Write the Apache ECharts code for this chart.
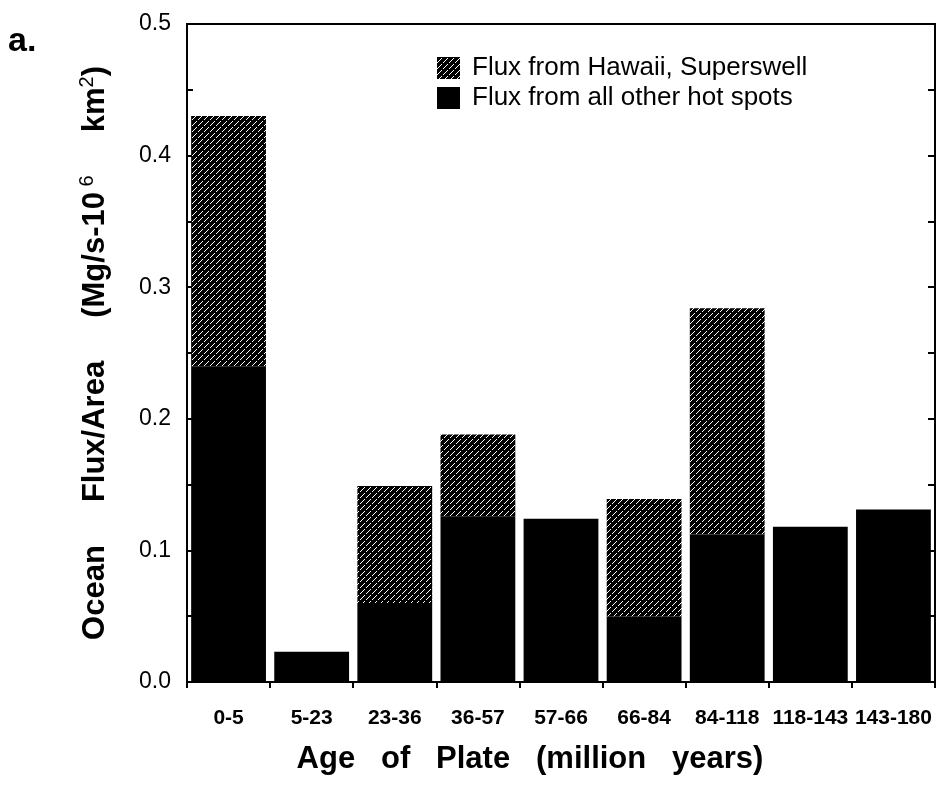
<!DOCTYPE html>
<html>
<head>
<meta charset="utf-8">
<script src="https://cdn.jsdelivr.net/npm/echarts@6/dist/echarts.min.js"></script>
<style>
html,body{margin:0;padding:0;background:#fff;}
#chart{width:940px;height:785px;}
</style>
</head>
<body>
<div id="chart"></div>
<script>
const categories = ['0-5','5-23','23-36','36-57','57-66','66-84','84-118','118-143','143-180'];
const otherFlux = [0.24, 0.023, 0.06, 0.126, 0.124, 0.05, 0.112, 0.118, 0.131];
const hawaiiFlux = [0.19, 0, 0.089, 0.062, 0, 0.089, 0.172, 0, 0];
const yTicks = [0, 0.1, 0.2, 0.3, 0.4, 0.5];
const seriesNames = ['Flux from Hawaii, Superswell', 'Flux from all other hot spots'];

function makeHatch() {
  const n = 6;
  const c = document.createElement('canvas');
  c.width = n; c.height = n;
  const ctx = c.getContext('2d');
  ctx.fillStyle = '#000';
  ctx.fillRect(0, 0, n, n);
  ctx.fillStyle = '#fff';
  [0, 1, 2, 3, 4].forEach(function (x) { ctx.fillRect(x, n - 1 - x, 1, 1); });
  return c;
}
const hatch = { image: makeHatch(), repeat: 'repeat' };

const chart = echarts.init(document.getElementById('chart'), null, { renderer: 'canvas' });
const font = '"Liberation Sans", Arial, Helvetica, sans-serif';

chart.setOption({
  animation: false,
  backgroundColor: '#fff',
  textStyle: { fontFamily: font, color: '#000' },
  grid: { left: 187, right: 5, top: 24, bottom: 103, show: true, borderColor: '#000', borderWidth: 2, backgroundColor: 'transparent' },
  legend: {
    orient: 'vertical',
    left: 432, top: 50,
    itemWidth: 23, itemHeight: 22, itemGap: 4,
    icon: 'rect',
    data: seriesNames,
    textStyle: { fontFamily: font, fontSize: 26, lineHeight: 24, color: '#000', padding: [0, 0, 0, 7] }
  },
  graphic: [{
    type: 'text', left: 8, top: 25,
    style: { text: 'a.', font: 'bold 34px ' + font, fill: '#000' }
  }],
  xAxis: {
    type: 'category',
    data: categories,
    axisLine: { lineStyle: { color: '#000', width: 2 } },
    axisTick: { show: true, length: 6, lineStyle: { color: '#000', width: 2 } },
    axisLabel: { color: '#000', fontSize: 21, fontWeight: 'bold', fontFamily: font, margin: 26, interval: 0 },
    name: 'Age   of   Plate   (million   years)',
    nameLocation: 'middle',
    nameGap: 62,
    nameTextStyle: { color: '#000', fontSize: 31, fontWeight: 'bold', fontFamily: font, padding: [0, 62, 0, 0] }
  },
  yAxis: [{
    type: 'value',
    min: yTicks[0], max: yTicks[yTicks.length - 1], interval: 0.1,
    axisLine: { show: true, lineStyle: { color: '#000', width: 2 } },
    axisTick: { show: true, inside: true, length: 6, lineStyle: { color: '#000', width: 2 } },
    minorTick: { show: true, splitNumber: 2, length: 6, lineStyle: { color: '#000', width: 2 } },
    splitLine: { show: false },
    axisLabel: { color: '#000', fontSize: 23, fontFamily: font, margin: 16, formatter: function (v) { return v.toFixed(1); } },
    name: '{b|Ocean     Flux/Area     (Mg/s-10}{s| 6}{b|     km}{s|2}{b|)}',
    nameLocation: 'middle',
    nameGap: 74,
    nameTextStyle: {
      rich: {
        b: { fontSize: 31, fontWeight: 'bold', fontFamily: font, color: '#000', lineHeight: 36, verticalAlign: 'middle' },
        s: { fontSize: 20, fontFamily: font, color: '#000', lineHeight: 36, verticalAlign: 'top' }
      }
    }
  }, {
    type: 'value',
    position: 'right',
    min: yTicks[0], max: yTicks[yTicks.length - 1], interval: 0.1,
    axisLine: { show: true, lineStyle: { color: '#000', width: 2 } },
    axisTick: { show: true, inside: true, length: 7, lineStyle: { color: '#000', width: 2 } },
    minorTick: { show: true, splitNumber: 2, length: 7, lineStyle: { color: '#000', width: 2 } },
    splitLine: { show: false },
    axisLabel: { show: false }
  }],
  series: [{
    name: seriesNames[1],
    type: 'bar',
    stack: 'flux',
    data: otherFlux,
    barCategoryGap: '10%',
    itemStyle: { color: '#000' }
  }, {
    name: seriesNames[0],
    type: 'bar',
    stack: 'flux',
    data: hawaiiFlux,
    barCategoryGap: '10%',
    itemStyle: { color: hatch }
  }]
});
</script>
</body>
</html>
